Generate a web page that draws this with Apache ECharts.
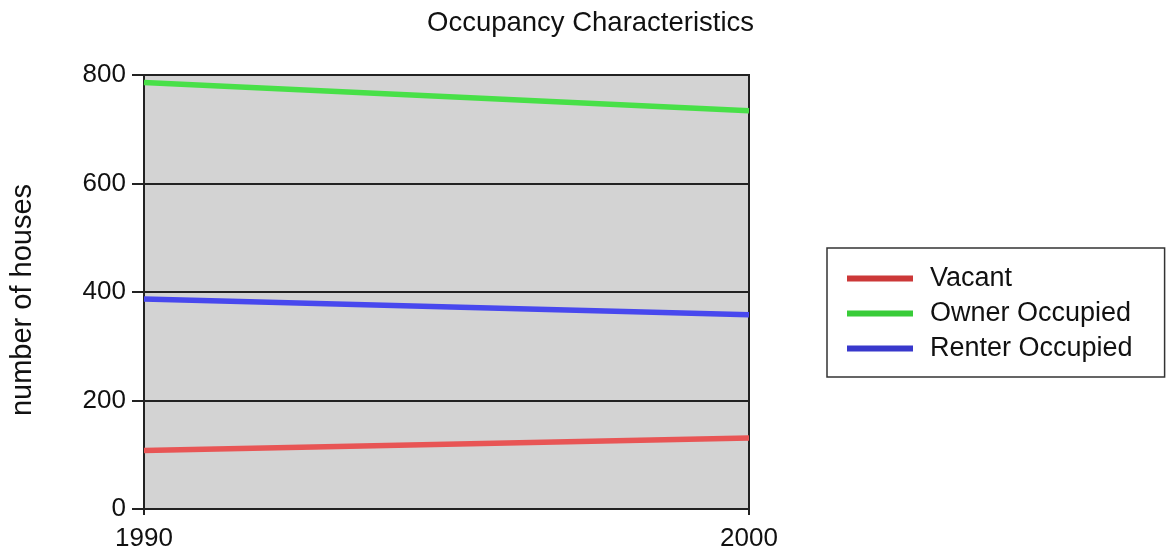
<!DOCTYPE html>
<html>
<head>
<meta charset="utf-8">
<script src="https://cdn.jsdelivr.net/npm/echarts@6/dist/echarts.min.js"></script>
<style>
  html, body { margin: 0; padding: 0; background: #fff; }
  #main { width: 1166px; height: 554px; }
</style>
</head>
<body>
<div id="main"></div>
<script>
var years = ['1990', '2000'];
var vacant = [108, 131];
var ownerOccupied = [786, 734];
var renterOccupied = [387, 358];
var yTicks = { min: 0, max: 800, interval: 200 };

var chart = echarts.init(document.getElementById('main'), null, { renderer: 'canvas' });

var font = 'Liberation Sans, Arial, sans-serif';
var gridLine = {
  color: '#222',
  width: 2
};

var option = {
  backgroundColor: '#fff',
  animation: false,
  title: {
    text: 'Occupancy Characteristics',
    left: 422,
    top: 4,
    textStyle: {
      fontFamily: font,
      fontSize: 27.5,
      fontWeight: 'normal',
      color: '#111'
    }
  },
  grid: {
    left: 142,
    right: 417,
    top: 75,
    bottom: 45,
    show: true,
    backgroundColor: '#d3d3d3',
    borderColor: '#222',
    borderWidth: 2
  },
  legend: {
    orient: 'vertical',
    left: 827,
    top: 248,
    padding: [17, 32, 15, 20],
    itemGap: 8,
    itemWidth: 66,
    itemHeight: 6,
    borderColor: '#333',
    borderWidth: 1.5,
    backgroundColor: '#fff',
    icon: 'rect',
    textStyle: {
      fontFamily: font,
      fontSize: 27,
      color: '#111',
      padding: [0, 0, 0, 12]
    },
    data: [
      { name: 'Vacant', itemStyle: { color: '#cc3838' } },
      { name: 'Owner Occupied', itemStyle: { color: '#38cc38' } },
      { name: 'Renter Occupied', itemStyle: { color: '#3838cc' } }
    ]
  },
  xAxis: {
    type: 'category',
    data: years,
    boundaryGap: false,
    axisLine: { lineStyle: gridLine },
    axisTick: { show: true, length: 6, lineStyle: gridLine },
    axisLabel: {
      margin: 17,
      fontFamily: font,
      fontSize: 26,
      color: '#111'
    },
    splitLine: { show: false }
  },
  yAxis: {
    type: 'value',
    min: yTicks.min,
    max: yTicks.max,
    interval: yTicks.interval,
    name: 'number of houses',
    nameLocation: 'middle',
    nameRotate: 90,
    nameGap: 107,
    nameTextStyle: {
      fontFamily: font,
      fontSize: 29,
      color: '#111',
      padding: [0, 16, 0, 0]
    },
    axisLine: { show: true, lineStyle: gridLine },
    axisTick: { show: true, length: 12, lineStyle: gridLine },
    axisLabel: {
      margin: 18,
      fontFamily: font,
      fontSize: 26,
      color: '#111'
    },
    splitLine: { show: true, lineStyle: gridLine }
  },
  series: [
    {
      name: 'Vacant',
      type: 'line',
      data: vacant,
      showSymbol: false,
      color: '#e85555',
      lineStyle: { width: 5.5, color: '#e85555' }
    },
    {
      name: 'Owner Occupied',
      type: 'line',
      data: ownerOccupied,
      showSymbol: false,
      color: '#48e048',
      lineStyle: { width: 5.5, color: '#48e048' }
    },
    {
      name: 'Renter Occupied',
      type: 'line',
      data: renterOccupied,
      showSymbol: false,
      color: '#4848ee',
      lineStyle: { width: 5.5, color: '#4848ee' }
    }
  ]
};

chart.setOption(option);
</script>
</body>
</html>
